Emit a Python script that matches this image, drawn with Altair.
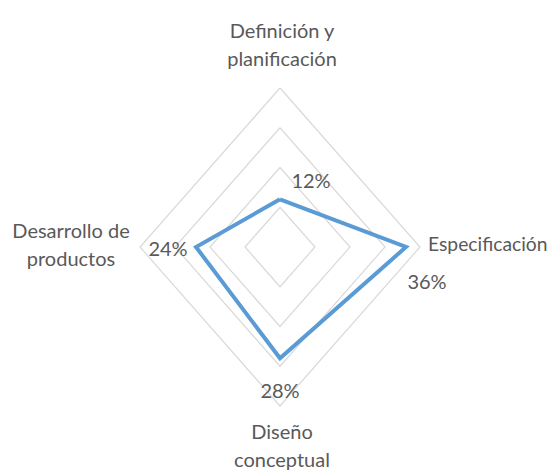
import altair as alt
import pandas as pd

categories = ["Definición y planificación", "Especificación", "Diseño conceptual", "Desarrollo de productos"]
label_lines = [["Definición y", "planificación"], ["Especificación"], ["Diseño", "conceptual"], ["Desarrollo de", "productos"]]
values = [0.12, 0.36, 0.28, 0.24]
value_labels = ["12%", "36%", "28%", "24%"]
grid_levels = [0.1, 0.2, 0.3, 0.4]
r_max = 0.4

n = len(categories)
series_rows = [{"idx": i, "r": values[i % n]} for i in range(n + 1)]
series_df = pd.DataFrame(series_rows)

grid_rows = []
for lv in grid_levels:
    for i in range(n + 1):
        grid_rows.append({"level": lv, "idx": i, "r": lv})
grid_df = pd.DataFrame(grid_rows)

N = str(n)
xcalc = "datum.r * sin(2 * PI * datum.idx / " + N + ")"
ycalc = "datum.r * cos(2 * PI * datum.idx / " + N + ")"

xs = alt.Scale(domain=[-r_max, r_max])
ys = alt.Scale(domain=[-r_max, r_max])

FONT = "Lato"
FS = 20
COL = "#595959"

grid = alt.Chart(grid_df).transform_calculate(x=xcalc, y=ycalc).mark_line(
    color="#d9d9d9", strokeWidth=1.2
).encode(
    x=alt.X("x:Q", scale=xs, axis=None),
    y=alt.Y("y:Q", scale=ys, axis=None),
    detail="level:N",
    order="idx:Q",
)

line = alt.Chart(series_df).transform_calculate(x=xcalc, y=ycalc).mark_line(
    color="#5b9bd5", strokeWidth=4, strokeJoin="miter"
).encode(
    x=alt.X("x:Q", scale=xs, axis=None),
    y=alt.Y("y:Q", scale=ys, axis=None),
    order="idx:Q",
)

layers = [grid, line]

cat_offsets = [(2, -56, "center", FS), (8, -2, "left", 19.3), (2, 27, "center", FS), (-69, -15, "center", FS)]
val_offsets = [(31, -17), (21, 36), (0, 34), (-28, 3)]

for i in range(n):
    dx, dy, al, fs = cat_offsets[i]
    df = pd.DataFrame([{"idx": i, "r": r_max, "label": label_lines[i]}])
    layers.append(
        alt.Chart(df).transform_calculate(x=xcalc, y=ycalc).mark_text(
            font=FONT, fontSize=fs, color=COL, align=al, baseline="middle",
            dx=dx, dy=dy, lineHeight=28,
        ).encode(
            x=alt.X("x:Q", scale=xs, axis=None),
            y=alt.Y("y:Q", scale=ys, axis=None),
            text="label",
        )
    )
    vdx, vdy = val_offsets[i]
    vdf = pd.DataFrame([{"idx": i, "r": values[i], "label": value_labels[i]}])
    layers.append(
        alt.Chart(vdf).transform_calculate(x=xcalc, y=ycalc).mark_text(
            font=FONT, fontSize=FS, color=COL, align="center", baseline="middle",
            dx=vdx, dy=vdy,
        ).encode(
            x=alt.X("x:Q", scale=xs, axis=None),
            y=alt.Y("y:Q", scale=ys, axis=None),
            text="label:N",
        )
    )

chart = alt.layer(*layers).properties(
    width=280, height=318,
    background="white",
    autosize=alt.AutoSizeParams(type="none"),
    padding={"left": 132, "top": 80, "right": 131, "bottom": 76},
).configure_view(strokeWidth=0, stroke="transparent")

chart.save("out.html", embed_options={"renderer": "svg", "actions": False})
